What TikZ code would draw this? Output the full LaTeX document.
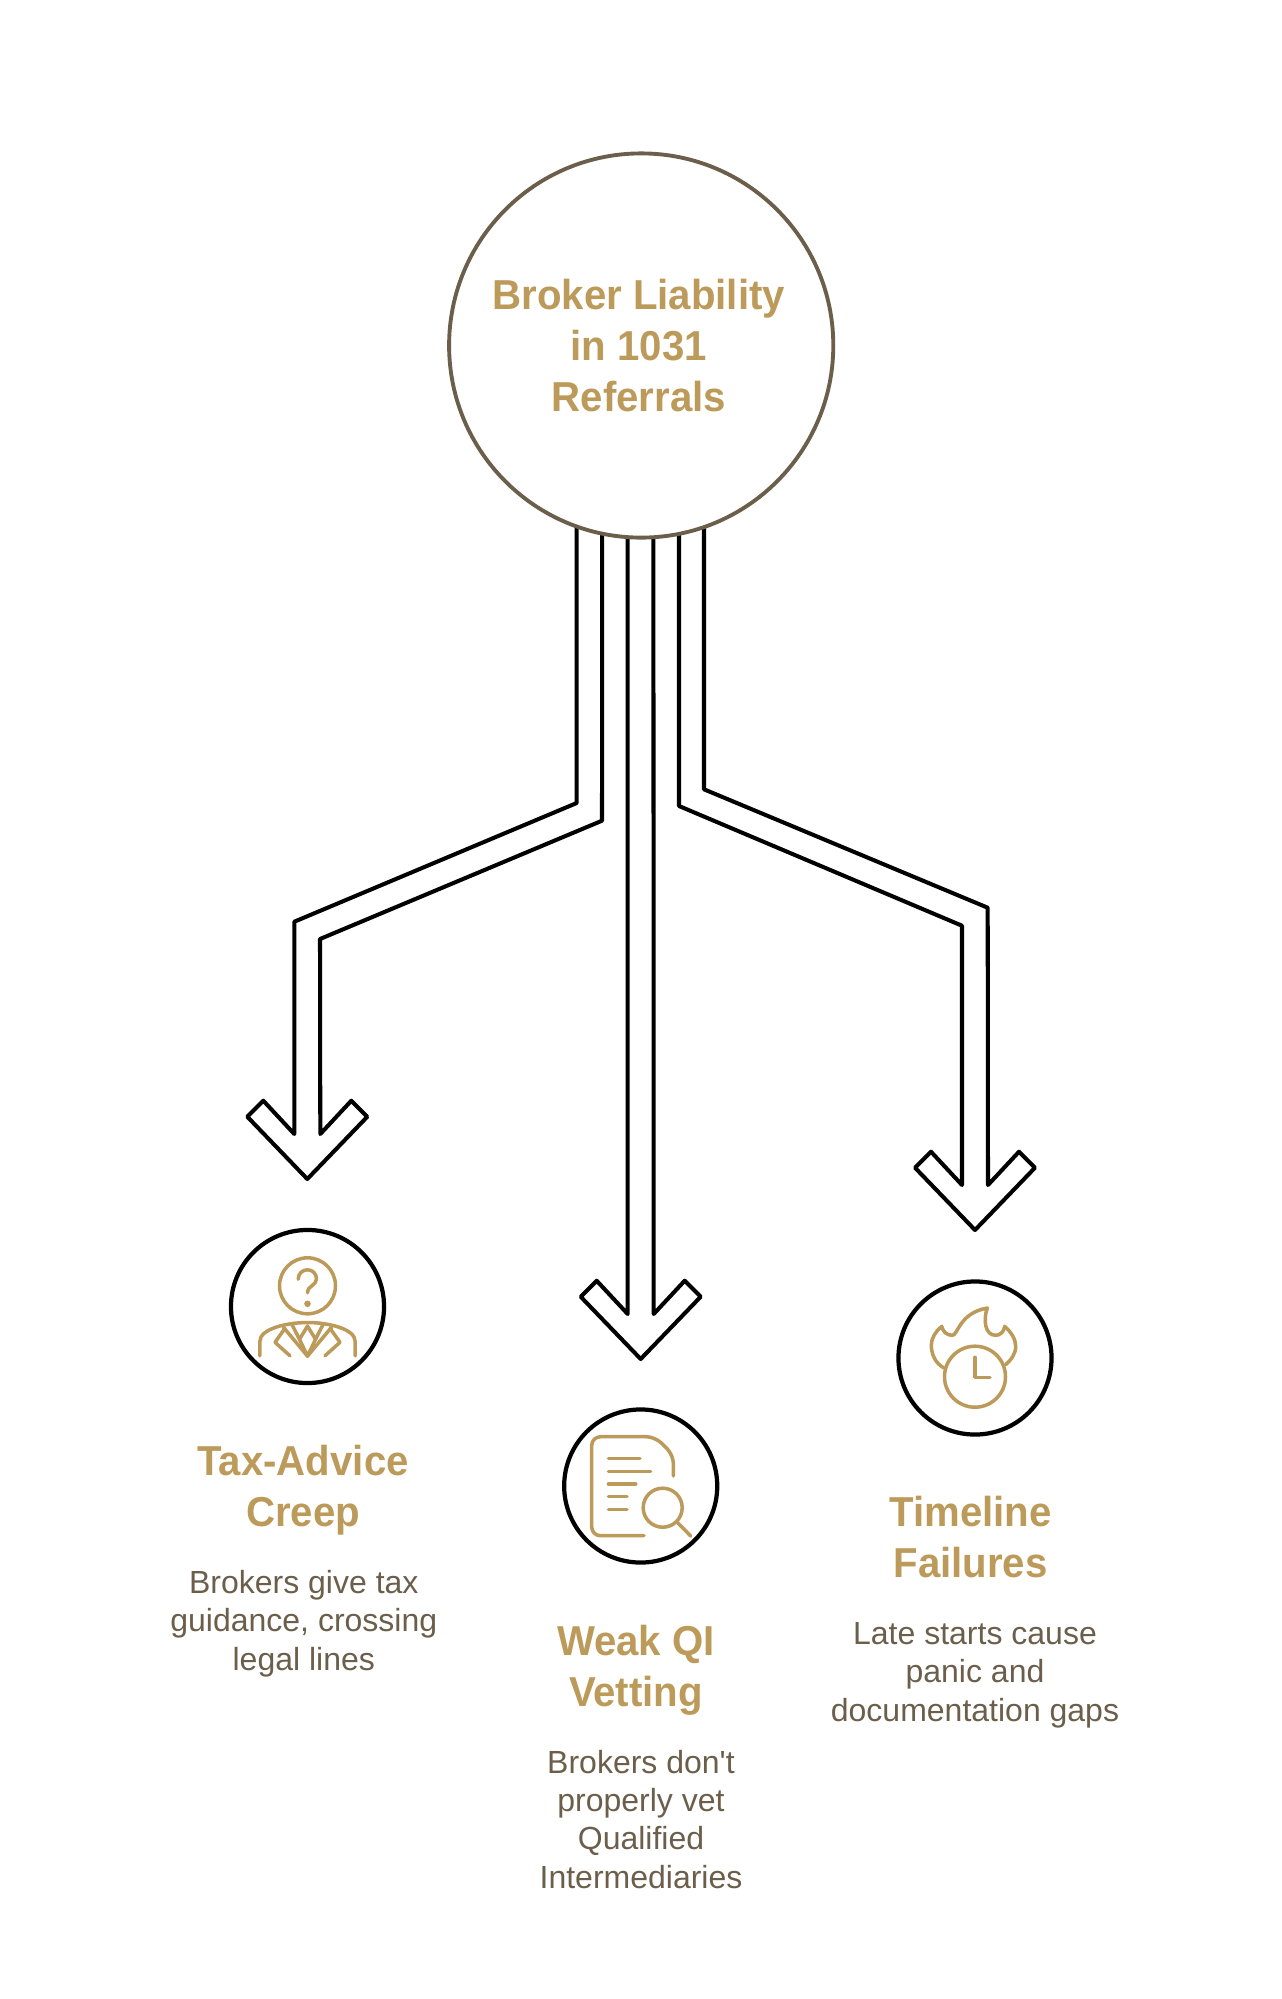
\documentclass[tikz,border=0pt]{standalone}
\usepackage{fontspec}
\setmainfont{Liberation Sans}[Ligatures=TeXOff,BoldFeatures={FakeStretch=0.96}]
\usetikzlibrary{positioning,calc,backgrounds}
\definecolor{goldtext}{HTML}{BC9A5A}
\definecolor{browntext}{HTML}{6B5F4B}
\tikzset{
  pipe/.style={draw=black,line width=1.15pt,line join=round,line cap=round},
  hubcircle/.style={circle,draw=browntext,line width=1.1pt,fill=white,minimum size=3.84cm,inner sep=0pt},
  iconcircle/.style={circle,draw=black,line width=1.2pt,minimum size=1.53cm,inner sep=0pt},
  glyph/.style={draw=goldtext,line width=1pt,line cap=round,line join=round},
  titletext/.style={align=center,anchor=base,text=goldtext,font=\fontsize{11.9}{14.45}\selectfont\bfseries},
  bodytext/.style={align=center,anchor=base,text=browntext,font=\fontsize{9.1}{10.9}\selectfont}
}
\newcommand{\headshape}{-- ++(-31,-33.3) -- ++(-16,16) -- ++(60,62.3) -- ++(60,-62.3) -- ++(-16,-16) -- ++(-31,33.3)}
\begin{document}
\begin{tikzpicture}[x=0.01cm,y=-0.01cm]
\useasboundingbox (0,0) rectangle (1282,1999);
\node[hubcircle] (hub) at (641.2,345.5) {};
\node[titletext] (hubtext) at (638.8,411.2) {Broker Liability\\in 1031\\Referrals};

\node[iconcircle] (taxicon) at (307.5,1306.5) {};
\node[iconcircle] (vetticon) at (640.7,1486) {};
\node[iconcircle] (timeicon) at (975,1358) {};

\coordinate (taxtip) at (307.3,1179);
\coordinate (vetttip) at (640.7,1359);
\coordinate (timetip) at (975,1230);

\begin{scope}[on background layer]
\draw[pipe] ($(hub)+(-64.5,150)$) -- (576.7,803) -- (294.3,921.7) -- ($(taxtip)+(-13,-45)$) \headshape -- (320,939) -- (602,820.7) -- ($(hub)+(-39,150)$);
\draw[pipe] ($(hub)+(-13.5,150)$) -- ($(vetttip)+(-13,-45)$) \headshape -- ($(hub)+(12.2,150)$);
\draw[pipe] ($(hub)+(37.8,150)$) -- (679,806) -- (962,925.7) -- ($(timetip)+(-13,-45)$) \headshape -- (987.7,907.7) -- (704,789.3) -- ($(hub)+(62.8,150)$);
\end{scope}

% person with question mark
\begin{scope}[shift={(taxicon)}]
\draw[glyph] (0,-20.7) circle[radius=28];
\draw[glyph] (-9.3,-27.3) .. controls (-9.3,-33) and (-5,-36.7) .. (0,-36.7) .. controls (5,-36.7) and (9,-33) .. (9,-27.5) .. controls (9,-21) and (0,-21) .. (0,-13.7);
\fill[goldtext] (0,-2.7) circle[radius=3.3];
\draw[glyph] (-47.7,49.3) -- (-47.7,35) .. controls (-47.7,22) and (-20,16) .. (0,16) .. controls (20,16) and (47.7,22) .. (47.7,35) -- (47.7,49.3);
\draw[glyph] (-17.5,49.3) -- (-32.5,35.8) -- (-22.5,21.8);
\draw[glyph] (17.5,49.3) -- (32.5,35.8) -- (22.5,21.8);
\draw[glyph] (-24,20.8) -- (0,49.6) -- (24,20.8);
\draw[glyph] (-15.8,17.5) -- (-8,32.8) -- (0,19.5) -- (8,32.8) -- (15.8,17.5);
\draw[glyph] (-8,32.8) -- (0,49.6) -- (8,32.8);
\end{scope}

% document with magnifier
\begin{scope}[shift={(vetticon)}]
\draw[glyph,rounded corners=2.5] (3.3,49.7) -- (-49,49.7) -- (-49,-49.3) -- (14.3,-49.3) -- (32.7,-31) -- (32.7,-10);
\draw[glyph] (-32.3,-27.3) -- (-0.7,-27.3);
\draw[glyph] (-32.3,-14.7) -- (10,-14.7);
\draw[glyph] (-32.3,-2) -- (-5,-2);
\draw[glyph] (-32.3,10.7) -- (-13.7,10.7);
\draw[glyph] (-32.3,23.3) -- (-13.7,23.3);
\draw[glyph] (22,21.7) circle[radius=19.5];
\draw[glyph] (37,36.7) -- (50,50);
\end{scope}

% clock on fire
\begin{scope}[shift={(timeicon)}]
\draw[glyph] (0,18.7) circle[radius=30.5];
\draw[glyph] (0,-0.7) -- (0,19.3) -- (15,19.3);
\draw[glyph] (-31,10) .. controls (-40,5) and (-43.7,-4) .. (-43.7,-13.3) .. controls (-43.7,-20) and (-39,-27) .. (-33.3,-31.7) .. controls (-32,-26) and (-28,-22.7) .. (-22.7,-22.7) .. controls (-17,-22.7) and (-16,-45) .. (12.3,-50) .. controls (8,-38) and (10,-22.7) .. (20.7,-22.7) .. controls (25,-22.7) and (29,-26) .. (29.7,-31.7) .. controls (36,-26) and (40.7,-19) .. (40.7,-11.7) .. controls (40.7,-4) and (36,2) .. (30.7,6.7);
\end{scope}

\node[titletext] (taxtitle) at (303,1526.7) {Tax-Advice\\Creep};
\node[bodytext] (taxbody) at (303.8,1670) {Brokers give tax\\guidance, crossing\\legal lines};
\node[titletext] (vetttitle) at (636,1706) {Weak QI\\Vetting};
\node[bodytext] (vettbody) at (641,1888) {Brokers don't\\properly vet\\Qualified\\Intermediaries};
\node[titletext] (timetitle) at (970.5,1577.7) {Timeline\\Failures};
\node[bodytext] (timebody) at (975,1721) {Late starts cause\\panic and\\documentation gaps};
\end{tikzpicture}
\end{document}
